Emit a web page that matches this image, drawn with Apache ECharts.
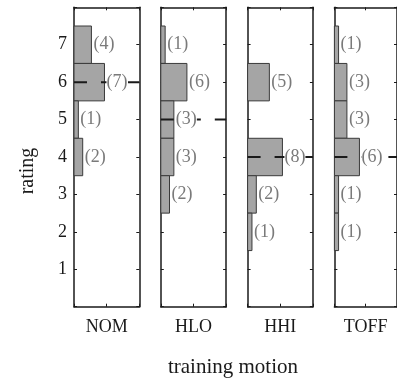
<!DOCTYPE html>
<html>
<head>
<meta charset="utf-8">
<script src="https://cdn.jsdelivr.net/npm/echarts@6/dist/echarts.min.js"></script>
<style>
  html, body { margin: 0; padding: 0; background: #fff; }
  #chart { width: 397px; height: 380px; }
</style>
</head>
<body>
<div id="chart"></div>
<script>
// Training motions, one panel each
const motions = ['NOM', 'HLO', 'HHI', 'TOFF'];
// Rating scale shown on the vertical axis
const ratingTicks = [1, 2, 3, 4, 5, 6, 7];
// [rating, number of responses] for each training motion
const nomCounts  = [[7, 4], [6, 7], [5, 1], [4, 2]];
const hloCounts  = [[7, 1], [6, 6], [5, 3], [4, 3], [3, 2]];
const hhiCounts  = [[6, 5], [4, 8], [3, 2], [2, 1]];
const toffCounts = [[7, 1], [6, 3], [5, 3], [4, 6], [3, 1], [2, 1]];
// Median rating per training motion
const medians = [6, 5, 4, 4];

const allCounts = [nomCounts, hloCounts, hhiCounts, toffCounts];
const FONT = '"Liberation Serif", "Times New Roman", serif';
const INK = '#1a1a1a';
const COUNT_MAX = 15;

const panelLeft = 74, panelStep = 86.8, panelWidth = 65.3;
const panelTop = 7.3, panelHeight = 299.4;

const grids = [], xAxes = [], yAxes = [], series = [];

motions.forEach((name, i) => {
  grids.push({
    left: panelLeft + i * panelStep, top: panelTop,
    width: panelWidth, height: panelHeight,
    containLabel: false
  });
  const axisLine = { show: true, onZero: false, lineStyle: { color: INK, width: 1.5 } };
  const tick = { show: true, inside: true, length: 3, lineStyle: { color: INK, width: 1 } };
  // bottom axis carries the motion name
  xAxes.push({
    gridIndex: i, type: 'value', position: 'bottom', min: 0, max: COUNT_MAX, interval: COUNT_MAX / 2,
    axisLine, axisTick: tick, axisLabel: { show: false }, splitLine: { show: false },
    name, nameLocation: 'middle', nameGap: 12,
    nameTextStyle: { fontFamily: FONT, fontSize: 18, color: INK }
  });
  // top axis closes the frame
  xAxes.push({
    gridIndex: i, type: 'value', position: 'top', min: 0, max: COUNT_MAX, interval: COUNT_MAX / 2,
    axisLine, axisTick: tick, axisLabel: { show: false }, splitLine: { show: false }
  });
  yAxes.push({
    gridIndex: i, type: 'value', position: 'left', min: 0, max: 8, interval: 1,
    axisLine, axisTick: tick, splitLine: { show: false },
    axisLabel: {
      show: i === 0, margin: 7, fontFamily: FONT, fontSize: 18, color: INK,
      formatter: v => (ratingTicks.includes(v) ? String(v) : '')
    }
  });
  yAxes.push({
    gridIndex: i, type: 'value', position: 'right', min: 0, max: 8, interval: 1,
    axisLine, axisTick: tick, axisLabel: { show: false }, splitLine: { show: false }
  });

  const xIdx = i * 2, yIdx = i * 2;

  // histogram bars, one rating band tall
  series.push({
    type: 'custom', xAxisIndex: xIdx, yAxisIndex: yIdx, z: 2,
    data: allCounts[i], encode: { x: 1, y: 0 },
    renderItem: (params, api) => {
      const r = api.value(0), c = api.value(1);
      const p0 = api.coord([0, r + 0.5]);
      const p1 = api.coord([c, r - 0.5]);
      return {
        type: 'rect',
        shape: { x: p0[0], y: p0[1], width: p1[0] - p0[0], height: p1[1] - p0[1] },
        style: { fill: '#a5a5a5', stroke: '#3a3a3a', lineWidth: 1 }
      };
    }
  });

  // dashed median line across the panel
  series.push({
    type: 'custom', xAxisIndex: xIdx, yAxisIndex: yIdx, z: 3,
    data: [[medians[i]]], encode: { y: 0 },
    renderItem: (params, api) => {
      const m = api.value(0);
      const a = api.coord([0, m]);
      const b = api.coord([COUNT_MAX, m]);
      return {
        type: 'line',
        shape: { x1: a[0], y1: a[1], x2: b[0], y2: b[1] },
        style: { stroke: INK, lineWidth: 2, lineDash: [13, 14] }
      };
    }
  });

  // count labels beside each bar
  series.push({
    type: 'custom', xAxisIndex: xIdx, yAxisIndex: yIdx, z: 4,
    data: allCounts[i], encode: { x: 1, y: 0 },
    renderItem: (params, api) => {
      const r = api.value(0), c = api.value(1);
      const p = api.coord([c, r]);
      return {
        type: 'text',
        x: p[0] + 2, y: p[1],
        style: {
          text: '(' + c + ')', fill: '#7a7a7a',
          font: '18px ' + FONT,
          align: 'left', verticalAlign: 'middle',
          backgroundColor: '#fff'
        }
      };
    }
  });
});

const chart = echarts.init(document.getElementById('chart'), null, { renderer: 'canvas' });
chart.setOption({
  animation: false,
  backgroundColor: '#fff',
  grid: grids,
  xAxis: xAxes,
  yAxis: yAxes,
  series,
  graphic: [
    {
      type: 'text', x: 28, y: 171, rotation: Math.PI / 2,
      style: { text: 'rating', font: '20px ' + FONT, fill: INK, align: 'center', verticalAlign: 'middle' }
    },
    {
      type: 'text', x: 233, y: 367,
      style: { text: 'training motion', font: '21px ' + FONT, fill: INK, align: 'center', verticalAlign: 'middle' }
    }
  ]
});
</script>
</body>
</html>
